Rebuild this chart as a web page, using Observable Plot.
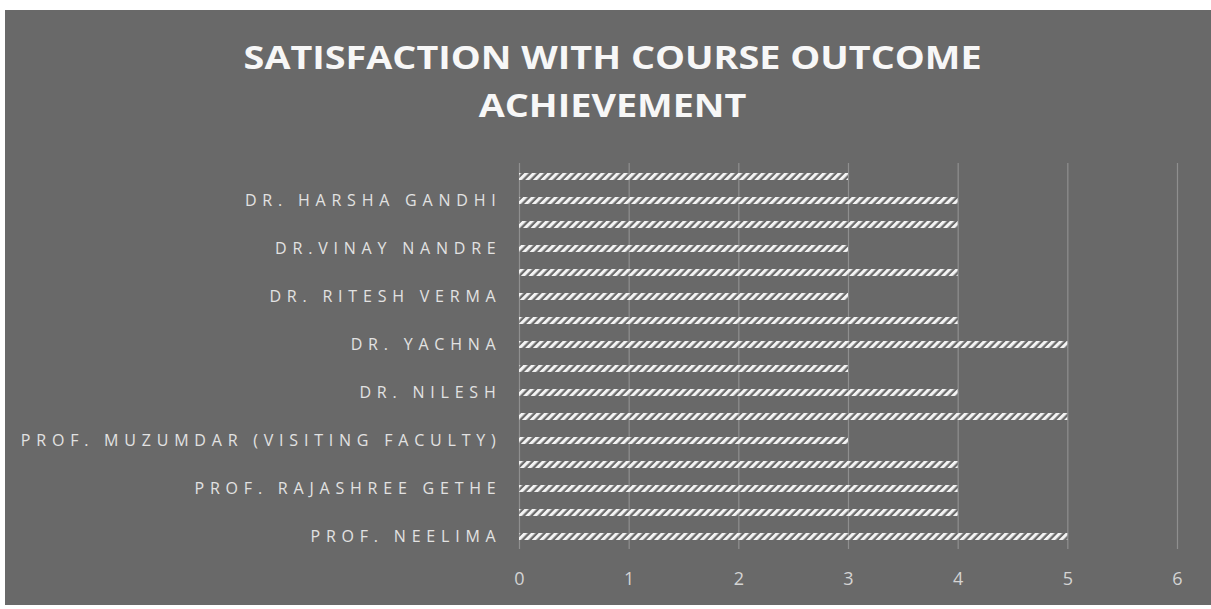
<!DOCTYPE html>
<html>
<head>
<meta charset="utf-8">
<script src="https://cdn.jsdelivr.net/npm/d3@7"></script>
<script src="https://cdn.jsdelivr.net/npm/@observablehq/plot@0.6"></script>
<style>
  html, body { margin: 0; padding: 0; background: #ffffff; }
  #page { position: relative; width: 1211px; height: 609px; overflow: hidden; background: #ffffff; }
  #panel { position: absolute; left: 5px; top: 10px; width: 1206px; height: 595px; background: #696969; }
  #title { position: absolute; left: 0; top: 33px; width: 1225px; text-align: center;
           font-family: "Open Sans", sans-serif; font-weight: 700; font-size: 32px; line-height: 48px;
           color: #f7f7f7; transform: scaleX(1.18); transform-origin: 612px 0; }
  #chart { position: absolute; left: 0; top: 140px; }
  #chart svg { overflow: visible; }
</style>
</head>
<body>
<div id="page">
  <div id="panel"></div>
  <div id="title">SATISFACTION WITH COURSE OUTCOME<br>ACHIEVEMENT</div>
  <div id="chart"></div>
  <svg width="0" height="0" style="position:absolute">
    <defs>
      <pattern id="hatch" patternUnits="userSpaceOnUse" width="5.4" height="5.4" patternTransform="rotate(45)">
        <rect x="0" y="0" width="3.1" height="5.4" fill="#f4f4f4"></rect>
      </pattern>
    </defs>
  </svg>
</div>
<script>
// Categories listed bottom to top (Excel order); unlabeled bars have empty labels
const labels = [
  "PROF. NEELIMA", "",
  "PROF. RAJASHREE GETHE", "",
  "PROF. MUZUMDAR (VISITING FACULTY)", "",
  "DR. NILESH", "",
  "DR. YACHNA", "",
  "DR. RITESH VERMA", "",
  "DR.VINAY NANDRE", "",
  "DR. HARSHA GANDHI", ""
];
const values = [5, 4, 4, 4, 3, 5, 4, 3, 5, 4, 3, 4, 3, 4, 4, 3];
const xTicks = [0, 1, 2, 3, 4, 5, 6];

const data = values.map((v, i) => ({idx: i, value: v}));
const yDomain = d3.range(labels.length).reverse();

const chart = Plot.plot({
  width: 1211,
  height: 460,
  marginLeft: 519,
  marginRight: 34,
  marginTop: 23,
  marginBottom: 51,
  style: {background: "transparent", overflow: "visible"},
  x: {domain: [0, 6], ticks: xTicks},
  y: {domain: yDomain, paddingInner: 0.71, paddingOuter: 0.15},
  marks: [
    Plot.ruleX(xTicks, {stroke: "#8f8f8f", strokeWidth: 1.2}),
    Plot.barX(data, {x: "value", y: "idx", fill: "url(#hatch)"}),
    Plot.axisX({ticks: xTicks, tickSize: 0, tickPadding: 23, fontSize: 18,
      fontFamily: "Open Sans, sans-serif", color: "#d4d4d4", label: null,
      tickFormat: d3.format("d")}),
    Plot.axisY({tickSize: 0, tickPadding: 18, fontSize: 16,
      fontFamily: "Open Sans, sans-serif", color: "#e2e2e2", label: null,
      tickFormat: i => labels[i]})
  ]
});
document.getElementById("chart").appendChild(chart);

// spread label letters like the reference (longest label spans ~475px)
const yTexts = Array.from(chart.querySelectorAll("g[aria-label='y-axis tick label'] text"));
const longest = yTexts.reduce((a, t) => (t.textContent.length > a.textContent.length ? t : a), yTexts[0]);
const w0 = longest.getComputedTextLength();
const n = longest.textContent.length;
const spacing = Math.max(0, (475 - w0) / (n - 1));
yTexts.forEach(t => {
  t.setAttribute("letter-spacing", spacing.toFixed(2));
});
</script>
</body>
</html>
